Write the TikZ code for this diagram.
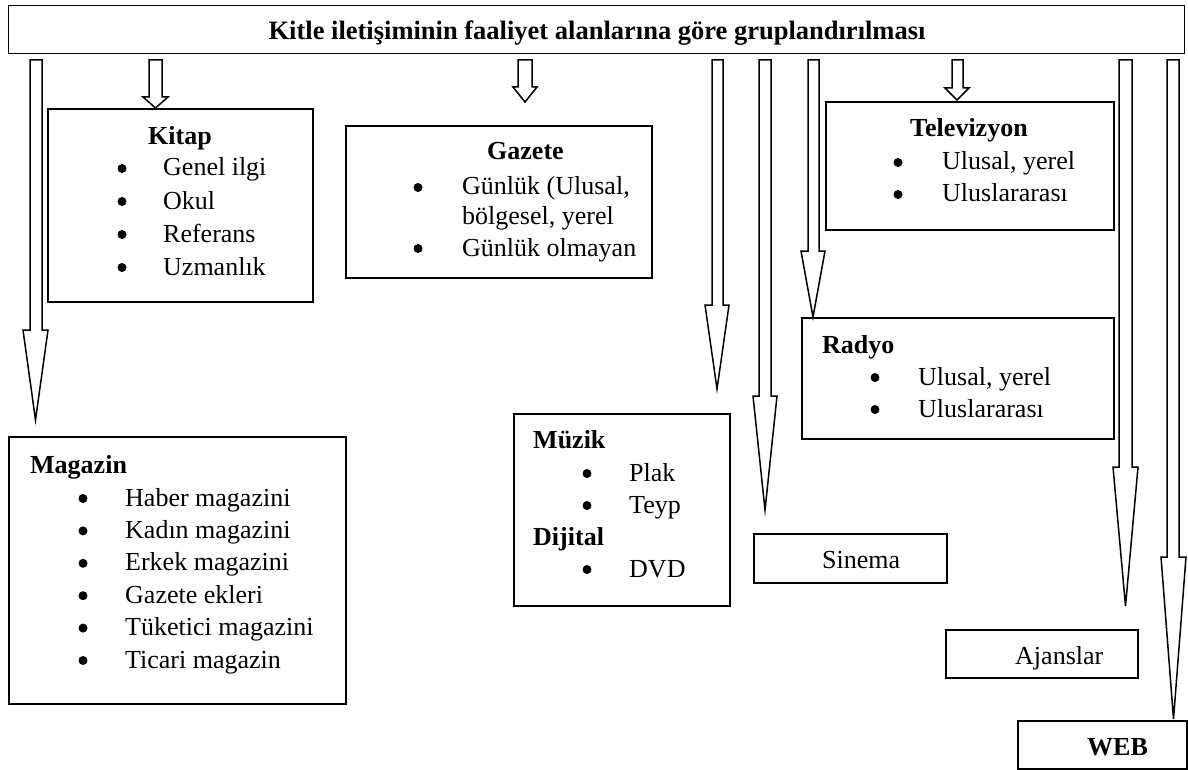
\documentclass[tikz,border=0pt]{standalone}
\usepackage{fontspec}
\setmainfont{Liberation Serif}
\newcommand\blockarr[6]{%
  \draw[barrow] (#1,60) -- (#1,#5) -- (#3,#5) -- ({(#3+#4)/2},#6) -- (#4,#5) -- (#2,#5) -- (#2,60) -- cycle;}
\newcommand\bl[3]{\node[bul] (#1) at (#2,{#3-7.5}) {};}
\tikzset{
  box/.style={draw, line width=1.8pt, inner sep=0pt, anchor=north west},
  barrow/.style={draw, line width=1.5pt, line join=miter, fill=white},
  txt/.style={anchor=base west, inner sep=0pt, font=\fontsize{26}{31}\selectfont},
  hd/.style={anchor=base west, inner sep=0pt, font=\fontsize{26}{31}\selectfont\bfseries},
  bul/.style={circle, fill=black, inner sep=0pt, minimum size=9pt},
}
\begin{document}
\begin{tikzpicture}[x=1pt,y=-1pt]
\useasboundingbox (0,0) rectangle (1188,770);
% top bar
\node[box, line width=1.4pt, minimum width=1176pt, minimum height=48pt] (bar) at (8,5) {};
\node[anchor=base, inner sep=0pt, font=\fontsize{26.5}{31}\selectfont\bfseries] (title) at (597,40)
  {Kitle iletişiminin faaliyet alanlarına göre gruplandırılması};
% block arrows
\blockarr{30}{42}{23}{48}{330}{420}
\blockarr{149}{162}{143}{168}{97}{108}
\blockarr{518}{532}{513}{537}{87}{102}
\blockarr{712}{723}{705}{729}{305}{389}
\blockarr{759}{771}{753}{777}{396}{510}
\blockarr{808}{819}{801}{825}{251}{317}
\blockarr{952}{963}{945}{969}{88}{100}
\blockarr{1119}{1132}{1113}{1138}{467}{606}
\blockarr{1167}{1179}{1161}{1186}{557}{719}
% boxes
\node[box, minimum width=265pt, minimum height=193pt] (kitap) at (47,108) {};
\node[box, minimum width=306pt, minimum height=152pt] (gazete) at (345,125) {};
\node[box, minimum width=288pt, minimum height=128pt] (tv) at (825,101) {};
\node[box, minimum width=312pt, minimum height=121pt] (radyo) at (801,317) {};
\node[box, minimum width=337pt, minimum height=267pt] (magazin) at (8,436) {};
\node[box, minimum width=216pt, minimum height=192pt] (muzik) at (513,413) {};
\node[box, minimum width=193pt, minimum height=49pt] (sinema) at (753,533) {};
\node[box, minimum width=192pt, minimum height=48pt] (ajans) at (945,629) {};
\node[box, minimum width=169pt, minimum height=48pt] (web) at (1017,720) {};
% Kitap
\node[hd] (kt) at (148,145) {Kitap};
\bl{kb1}{122}{176} \node[txt] (k1) at (163,176) {Genel ilgi};
\bl{kb2}{122}{209} \node[txt] (k2) at (163,209) {Okul};
\bl{kb3}{122}{242} \node[txt] (k3) at (163,242) {Referans};
\bl{kb4}{122}{275} \node[txt] (k4) at (163,275) {Uzmanlık};
% Gazete
\node[hd] (gt) at (487,160) {Gazete};
\bl{gb1}{418}{195} \node[txt] (g1) at (462,195) {Günlük (Ulusal,};
\node[txt] (g2) at (462,225) {bölgesel, yerel};
\bl{gb3}{418}{256} \node[txt] (g3) at (462,256) {Günlük olmayan};
% Televizyon
\node[hd] (tt) at (910,137) {Televizyon};
\bl{tb1}{898}{170} \node[txt] (t1) at (942,170) {Ulusal, yerel};
\bl{tb2}{898}{202} \node[txt] (t2) at (942,202) {Uluslararası};
% Radyo
\node[hd] (rt) at (822,353) {Radyo};
\bl{rb1}{875}{385} \node[txt] (r1) at (918,385) {Ulusal, yerel};
\bl{rb2}{875}{417} \node[txt] (r2) at (918,417) {Uluslararası};
% Magazin
\node[hd] (mt) at (30,473) {Magazin};
\bl{mb1}{83}{506} \node[txt] (m1) at (125,506) {Haber magazini};
\bl{mb2}{83}{538.4} \node[txt] (m2) at (125,538.4) {Kadın magazini};
\bl{mb3}{83}{570.8} \node[txt] (m3) at (125,570.8) {Erkek magazini};
\bl{mb4}{83}{603.2} \node[txt] (m4) at (125,603.2) {Gazete ekleri};
\bl{mb5}{83}{635.6} \node[txt] (m5) at (125,635.6) {Tüketici magazini};
\bl{mb6}{83}{668} \node[txt] (m6) at (125,668) {Ticari magazin};
% Muzik
\node[hd] (ut) at (533,448) {Müzik};
\bl{ub1}{587}{481} \node[txt] (u1) at (629,481) {Plak};
\bl{ub2}{587}{513} \node[txt] (u2) at (629,513) {Teyp};
\node[hd] (dt) at (533,545) {Dijital};
\bl{db1}{587}{577} \node[txt] (d1) at (629,577) {DVD};
% single boxes
\node[txt] (st) at (822,568) {Sinema};
\node[txt] (at) at (1015,664) {Ajanslar};
\node[hd] (wt) at (1087,755) {WEB};
\end{tikzpicture}
\end{document}
